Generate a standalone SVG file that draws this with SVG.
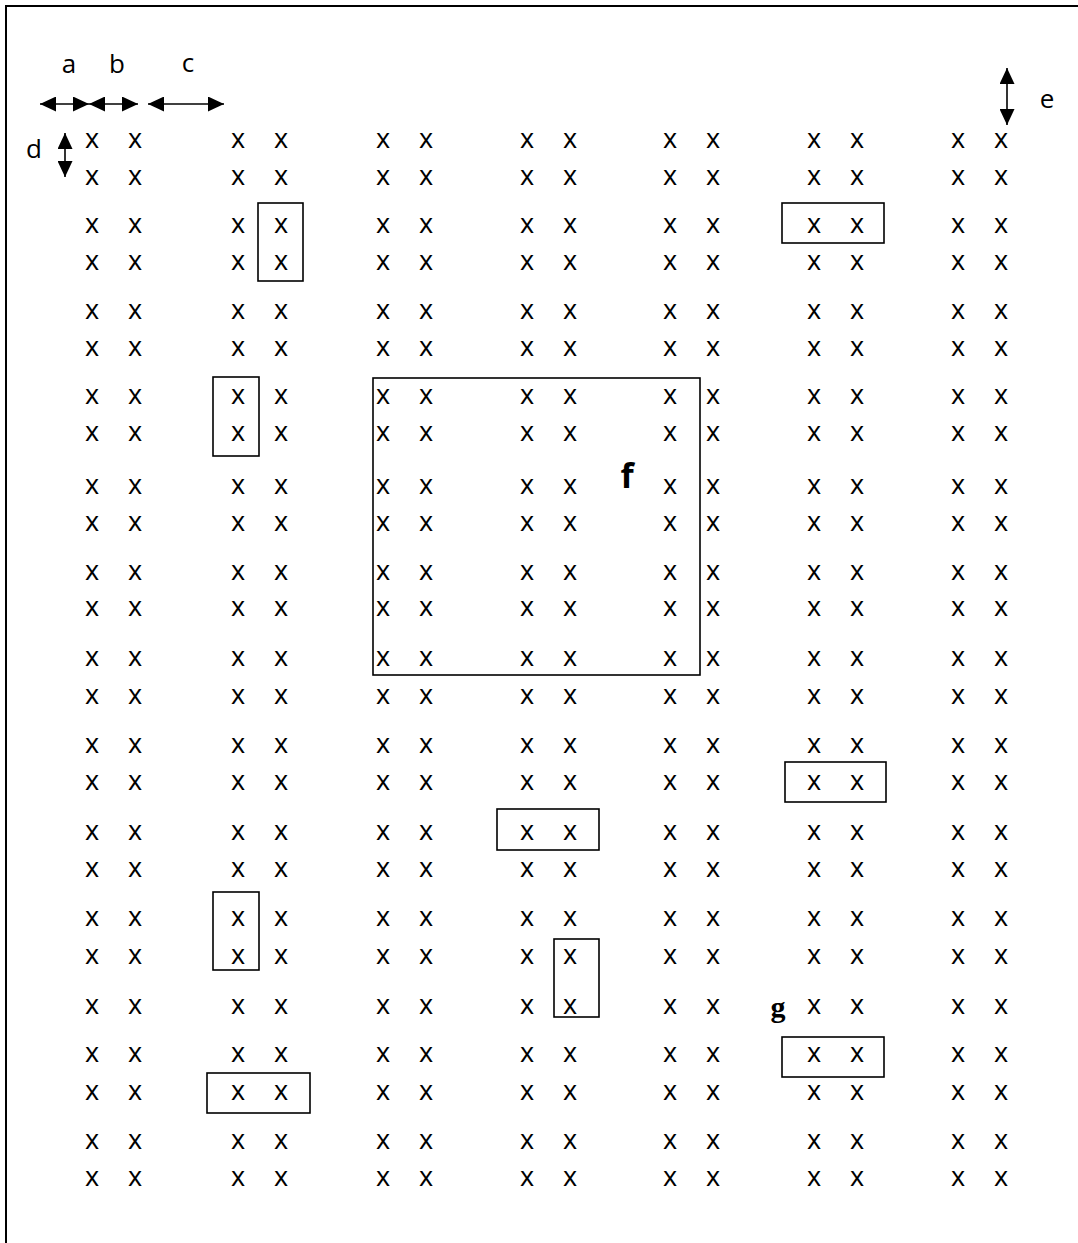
<svg xmlns="http://www.w3.org/2000/svg" width="1078" height="1243" viewBox="0 0 1078 1243">
<style>
.x{font-family:"Open Sans","Liberation Sans",sans-serif;font-size:27px;fill:#000;text-anchor:middle}
.lbl{font-family:"Open Sans","Liberation Sans",sans-serif;font-size:26px;fill:#000;text-anchor:middle}
.box{fill:none;stroke:#000;stroke-width:1.6}
.dim{stroke:#000;stroke-width:1.6;fill:none}
</style>
<defs>
<marker id="ah" markerUnits="userSpaceOnUse" markerWidth="17" markerHeight="15" refX="16" refY="7.5" orient="auto-start-reverse" viewBox="0 0 17 15">
<path d="M0,0 L16,7.5 L0,15 z" fill="#000"/>
</marker>
<g id="pair">
<text class="x" x="0" y="0">x</text>
<text class="x" x="43" y="0">x</text>
</g>
</defs>
<rect width="1078" height="1243" fill="#fff"/>
<g id="frame">
<line x1="5" y1="6" x2="1078" y2="6" stroke="#000" stroke-width="2"/>
<line x1="6" y1="5" x2="6" y2="1243" stroke="#000" stroke-width="2"/>
</g>
<g id="grid">
<g id="col1"><use href="#pair" x="92" y="148"/><use href="#pair" x="92" y="185"/><use href="#pair" x="92" y="233"/><use href="#pair" x="92" y="270"/><use href="#pair" x="92" y="319"/><use href="#pair" x="92" y="356"/><use href="#pair" x="92" y="404"/><use href="#pair" x="92" y="441"/><use href="#pair" x="92" y="494"/><use href="#pair" x="92" y="531"/><use href="#pair" x="92" y="580"/><use href="#pair" x="92" y="616"/><use href="#pair" x="92" y="666"/><use href="#pair" x="92" y="704"/><use href="#pair" x="92" y="753"/><use href="#pair" x="92" y="790"/><use href="#pair" x="92" y="840"/><use href="#pair" x="92" y="877"/><use href="#pair" x="92" y="926"/><use href="#pair" x="92" y="964"/><use href="#pair" x="92" y="1014"/><use href="#pair" x="92" y="1062"/><use href="#pair" x="92" y="1100"/><use href="#pair" x="92" y="1149"/><use href="#pair" x="92" y="1186"/></g>
<g id="col2"><use href="#pair" x="238" y="148"/><use href="#pair" x="238" y="185"/><use href="#pair" x="238" y="233"/><use href="#pair" x="238" y="270"/><use href="#pair" x="238" y="319"/><use href="#pair" x="238" y="356"/><use href="#pair" x="238" y="404"/><use href="#pair" x="238" y="441"/><use href="#pair" x="238" y="494"/><use href="#pair" x="238" y="531"/><use href="#pair" x="238" y="580"/><use href="#pair" x="238" y="616"/><use href="#pair" x="238" y="666"/><use href="#pair" x="238" y="704"/><use href="#pair" x="238" y="753"/><use href="#pair" x="238" y="790"/><use href="#pair" x="238" y="840"/><use href="#pair" x="238" y="877"/><use href="#pair" x="238" y="926"/><use href="#pair" x="238" y="964"/><use href="#pair" x="238" y="1014"/><use href="#pair" x="238" y="1062"/><use href="#pair" x="238" y="1100"/><use href="#pair" x="238" y="1149"/><use href="#pair" x="238" y="1186"/></g>
<g id="col3"><use href="#pair" x="383" y="148"/><use href="#pair" x="383" y="185"/><use href="#pair" x="383" y="233"/><use href="#pair" x="383" y="270"/><use href="#pair" x="383" y="319"/><use href="#pair" x="383" y="356"/><use href="#pair" x="383" y="404"/><use href="#pair" x="383" y="441"/><use href="#pair" x="383" y="494"/><use href="#pair" x="383" y="531"/><use href="#pair" x="383" y="580"/><use href="#pair" x="383" y="616"/><use href="#pair" x="383" y="666"/><use href="#pair" x="383" y="704"/><use href="#pair" x="383" y="753"/><use href="#pair" x="383" y="790"/><use href="#pair" x="383" y="840"/><use href="#pair" x="383" y="877"/><use href="#pair" x="383" y="926"/><use href="#pair" x="383" y="964"/><use href="#pair" x="383" y="1014"/><use href="#pair" x="383" y="1062"/><use href="#pair" x="383" y="1100"/><use href="#pair" x="383" y="1149"/><use href="#pair" x="383" y="1186"/></g>
<g id="col4"><use href="#pair" x="527" y="148"/><use href="#pair" x="527" y="185"/><use href="#pair" x="527" y="233"/><use href="#pair" x="527" y="270"/><use href="#pair" x="527" y="319"/><use href="#pair" x="527" y="356"/><use href="#pair" x="527" y="404"/><use href="#pair" x="527" y="441"/><use href="#pair" x="527" y="494"/><use href="#pair" x="527" y="531"/><use href="#pair" x="527" y="580"/><use href="#pair" x="527" y="616"/><use href="#pair" x="527" y="666"/><use href="#pair" x="527" y="704"/><use href="#pair" x="527" y="753"/><use href="#pair" x="527" y="790"/><use href="#pair" x="527" y="840"/><use href="#pair" x="527" y="877"/><use href="#pair" x="527" y="926"/><use href="#pair" x="527" y="964"/><use href="#pair" x="527" y="1014"/><use href="#pair" x="527" y="1062"/><use href="#pair" x="527" y="1100"/><use href="#pair" x="527" y="1149"/><use href="#pair" x="527" y="1186"/></g>
<g id="col5"><use href="#pair" x="670" y="148"/><use href="#pair" x="670" y="185"/><use href="#pair" x="670" y="233"/><use href="#pair" x="670" y="270"/><use href="#pair" x="670" y="319"/><use href="#pair" x="670" y="356"/><use href="#pair" x="670" y="404"/><use href="#pair" x="670" y="441"/><use href="#pair" x="670" y="494"/><use href="#pair" x="670" y="531"/><use href="#pair" x="670" y="580"/><use href="#pair" x="670" y="616"/><use href="#pair" x="670" y="666"/><use href="#pair" x="670" y="704"/><use href="#pair" x="670" y="753"/><use href="#pair" x="670" y="790"/><use href="#pair" x="670" y="840"/><use href="#pair" x="670" y="877"/><use href="#pair" x="670" y="926"/><use href="#pair" x="670" y="964"/><use href="#pair" x="670" y="1014"/><use href="#pair" x="670" y="1062"/><use href="#pair" x="670" y="1100"/><use href="#pair" x="670" y="1149"/><use href="#pair" x="670" y="1186"/></g>
<g id="col6"><use href="#pair" x="814" y="148"/><use href="#pair" x="814" y="185"/><use href="#pair" x="814" y="233"/><use href="#pair" x="814" y="270"/><use href="#pair" x="814" y="319"/><use href="#pair" x="814" y="356"/><use href="#pair" x="814" y="404"/><use href="#pair" x="814" y="441"/><use href="#pair" x="814" y="494"/><use href="#pair" x="814" y="531"/><use href="#pair" x="814" y="580"/><use href="#pair" x="814" y="616"/><use href="#pair" x="814" y="666"/><use href="#pair" x="814" y="704"/><use href="#pair" x="814" y="753"/><use href="#pair" x="814" y="790"/><use href="#pair" x="814" y="840"/><use href="#pair" x="814" y="877"/><use href="#pair" x="814" y="926"/><use href="#pair" x="814" y="964"/><use href="#pair" x="814" y="1014"/><use href="#pair" x="814" y="1062"/><use href="#pair" x="814" y="1100"/><use href="#pair" x="814" y="1149"/><use href="#pair" x="814" y="1186"/></g>
<g id="col7"><use href="#pair" x="958" y="148"/><use href="#pair" x="958" y="185"/><use href="#pair" x="958" y="233"/><use href="#pair" x="958" y="270"/><use href="#pair" x="958" y="319"/><use href="#pair" x="958" y="356"/><use href="#pair" x="958" y="404"/><use href="#pair" x="958" y="441"/><use href="#pair" x="958" y="494"/><use href="#pair" x="958" y="531"/><use href="#pair" x="958" y="580"/><use href="#pair" x="958" y="616"/><use href="#pair" x="958" y="666"/><use href="#pair" x="958" y="704"/><use href="#pair" x="958" y="753"/><use href="#pair" x="958" y="790"/><use href="#pair" x="958" y="840"/><use href="#pair" x="958" y="877"/><use href="#pair" x="958" y="926"/><use href="#pair" x="958" y="964"/><use href="#pair" x="958" y="1014"/><use href="#pair" x="958" y="1062"/><use href="#pair" x="958" y="1100"/><use href="#pair" x="958" y="1149"/><use href="#pair" x="958" y="1186"/></g>
</g>
<g id="boxes">
<rect id="box1" class="box" x="258" y="203" width="45" height="78"/>
<rect id="box2" class="box" x="782" y="203" width="102" height="40"/>
<rect id="box3" class="box" x="213" y="377" width="46" height="79"/>
<rect id="box-f" class="box" x="373" y="378" width="327" height="297"/>
<rect id="box5" class="box" x="785" y="762" width="101" height="40"/>
<rect id="box6" class="box" x="497" y="809" width="102" height="41"/>
<rect id="box7" class="box" x="213" y="892" width="46" height="78"/>
<rect id="box8" class="box" x="554" y="939" width="45" height="78"/>
<rect id="box-g" class="box" x="782" y="1037" width="102" height="40"/>
<rect id="box10" class="box" x="207" y="1073" width="103" height="40"/>
</g>
<g id="connectors">
<line class="dim" x1="40" y1="104" x2="89" y2="104" marker-start="url(#ah)" marker-end="url(#ah)"/>
<line class="dim" x1="89" y1="104" x2="138" y2="104" marker-start="url(#ah)" marker-end="url(#ah)"/>
<line class="dim" x1="148" y1="104" x2="224" y2="104" marker-start="url(#ah)" marker-end="url(#ah)"/>
<line class="dim" x1="65" y1="133" x2="65" y2="177" marker-start="url(#ah)" marker-end="url(#ah)"/>
<line class="dim" x1="1007" y1="68" x2="1007" y2="125" marker-start="url(#ah)" marker-end="url(#ah)"/>
</g>
<g id="labels">
<text class="lbl" x="69" y="73">a</text>
<text class="lbl" x="117" y="73">b</text>
<text class="lbl" x="188" y="72">c</text>
<text class="lbl" x="34" y="158">d</text>
<text class="lbl" x="1047" y="108">e</text>
<text x="627" y="488" style="font-family:'Open Sans','Liberation Sans',sans-serif;font-size:34px;font-weight:bold;text-anchor:middle">f</text>
<text x="778" y="1017" style="font-family:'Liberation Serif',serif;font-size:30px;font-weight:bold;text-anchor:middle">g</text>
</g>
</svg>
